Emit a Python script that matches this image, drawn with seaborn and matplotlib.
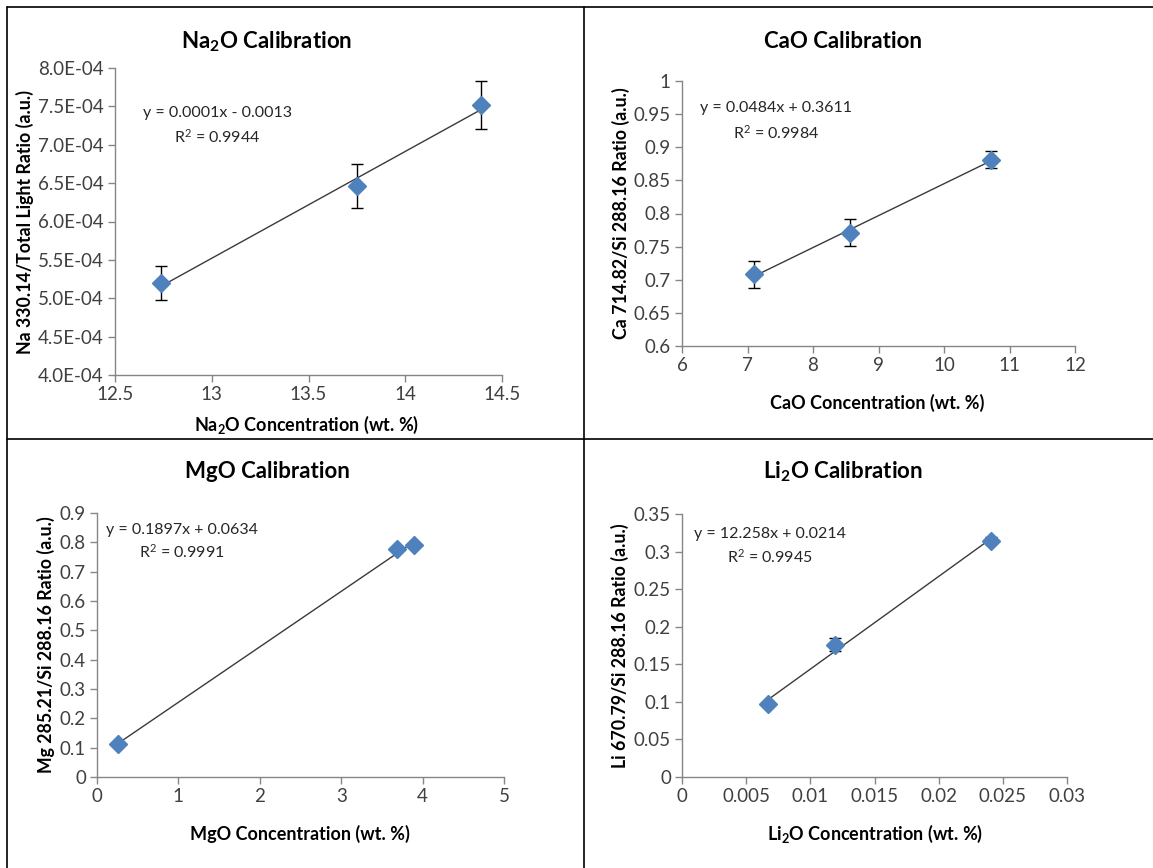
import numpy as np
import seaborn as sns
import matplotlib.pyplot as plt
from matplotlib.lines import Line2D
from matplotlib.ticker import FuncFormatter

sns.set_theme(style="white")
plt.rcParams['font.family'] = ['Lato', 'DejaVu Sans']
plt.rcParams['mathtext.default'] = 'regular'

# data
na_x = [12.74, 13.75, 14.39]
na_y = [5.20e-4, 6.46e-4, 7.52e-4]
na_err = [0.22e-4, 0.29e-4, 0.31e-4]

ca_x = [7.10, 8.56, 10.71]
ca_y = [0.708, 0.771, 0.881]
ca_err = [0.021, 0.020, 0.013]

mg_x = [0.26, 3.69, 3.90]
mg_y = [0.114, 0.776, 0.791]
mg_err = [0.004, 0.004, 0.004]

li_x = [0.00668, 0.01195, 0.02408]
li_y = [0.0966, 0.1763, 0.3146]
li_err = [0.002, 0.0085, 0.005]

titles = ['Na$_2$O Calibration', 'CaO Calibration', 'MgO Calibration', 'Li$_2$O Calibration']
xlabels = ['Na$_2$O Concentration (wt. %)', 'CaO Concentration (wt. %)',
           'MgO Concentration (wt. %)', 'Li$_2$O Concentration (wt. %)']
ylabels = ['Na 330.14/Total Light Ratio (a.u.)', 'Ca 714.82/Si 288.16 Ratio (a.u.)',
           'Mg 285.21/Si 288.16 Ratio (a.u.)', 'Li 670.79/Si 288.16 Ratio (a.u.)']
equations = ['y = 0.0001x - 0.0013', 'y = 0.0484x + 0.3611',
             'y = 0.1897x + 0.0634', 'y = 12.258x + 0.0214']
r2 = ['R$^2$ = 0.9944', 'R$^2$ = 0.9984', 'R$^2$ = 0.9991', 'R$^2$ = 0.9945']
xlims = [(12.5, 14.5), (6, 12), (0, 5), (0, 0.03)]
xsteps = [0.5, 1, 1, 0.005]
ylims = [(4.0e-4, 8.0e-4), (0.6, 1.0), (0, 0.9), (0, 0.35)]
ysteps = [0.5e-4, 0.05, 0.1, 0.05]

W, H = 1153, 868
# axes boxes in pixels: x0, x1, y0 (top), y1 (bottom)
boxes = [(115, 502, 68, 375), (682, 1075, 81, 346), (97, 504, 513, 777), (682, 1067, 514, 777)]
title_xy = [(267, 42), (843, 42), (267, 472), (843, 472)]
xlabel_xy = [(307, 425), (877, 403), (300, 834), (875, 834)]
eq_pos = [(0.264, 0.853, 0.775), (0.239, 0.898, 0.804), (0.209, 0.936, 0.852), (0.229, 0.924, 0.837)]

fig = plt.figure(figsize=(W / 100, H / 100), dpi=100)

series = [(na_x, na_y, na_err), (ca_x, ca_y, ca_err), (mg_x, mg_y, mg_err), (li_x, li_y, li_err)]
grey = '#868686'
for i, (xs, ys, es) in enumerate(series):
    x0, x1, y0, y1 = boxes[i]
    ax = fig.add_axes([x0 / W, 1 - y1 / H, (x1 - x0) / W, (y1 - y0) / H])
    sns.regplot(x=np.array(xs), y=np.array(ys), ax=ax, ci=None, scatter=False, truncate=True,
                line_kws=dict(color='#3a3a3a', lw=1.0))
    ax.errorbar(xs, ys, yerr=es, fmt='D', color='#4F81BD', ms=9, mec='#4F81BD',
                ecolor='black', elinewidth=1, capsize=4, capthick=1, zorder=3)
    ax.set_xlim(*xlims[i])
    ax.set_ylim(*ylims[i])
    ax.set_xticks(np.arange(xlims[i][0], xlims[i][1] + xsteps[i] / 2, xsteps[i]))
    ax.set_yticks(np.arange(ylims[i][0], ylims[i][1] + ysteps[i] / 2, ysteps[i]))
    if i == 0:
        ax.yaxis.set_major_formatter(FuncFormatter(lambda v, p: '{:.1E}'.format(v)))
    else:
        ax.yaxis.set_major_formatter(FuncFormatter(lambda v, p: '{:g}'.format(round(v, 6))))
    ax.xaxis.set_major_formatter(FuncFormatter(lambda v, p: '{:g}'.format(round(v, 6))))
    for s in ['top', 'right']:
        ax.spines[s].set_visible(False)
    for s in ['left', 'bottom']:
        ax.spines[s].set_color(grey)
        ax.spines[s].set_linewidth(1)
    ax.tick_params(axis='both', direction='out', length=5, width=1, color=grey,
                   labelsize=13.5, labelcolor='#404040', pad=3, left=True, bottom=True)
    ax.set_ylabel(ylabels[i], fontsize=12.8, fontweight='bold', color='black', labelpad=3)
    ax.set_xlabel('')
    ax.set_facecolor('white')
    tx, ty = title_xy[i]
    fig.text(tx / W, 1 - ty / H, titles[i], ha='center', va='center',
             fontsize=16, fontweight='bold', color='black')
    lx, ly = xlabel_xy[i]
    fig.text(lx / W, 1 - ly / H, xlabels[i], ha='center', va='center',
             fontsize=13, fontweight='bold', color='black')
    ex, ey1, ey2 = eq_pos[i]
    ax.text(ex, ey1, equations[i], transform=ax.transAxes, ha='center', va='center',
            fontsize=11.5, color='#262626')
    ax.text(ex, ey2, r2[i], transform=ax.transAxes, ha='center', va='center',
            fontsize=11.5, color='#262626')

# table borders
fig.add_artist(Line2D([7 / W, 1], [1 - 7 / H, 1 - 7 / H], color='black', lw=1.2))
fig.add_artist(Line2D([7 / W, 7 / W], [0, 1 - 7 / H], color='black', lw=1.2))
fig.add_artist(Line2D([584 / W, 584 / W], [0, 1 - 7 / H], color='black', lw=1.2))
fig.add_artist(Line2D([7 / W, 1], [1 - 439 / H, 1 - 439 / H], color='black', lw=1.2))

fig.savefig('out.png', dpi=100, facecolor='white')
